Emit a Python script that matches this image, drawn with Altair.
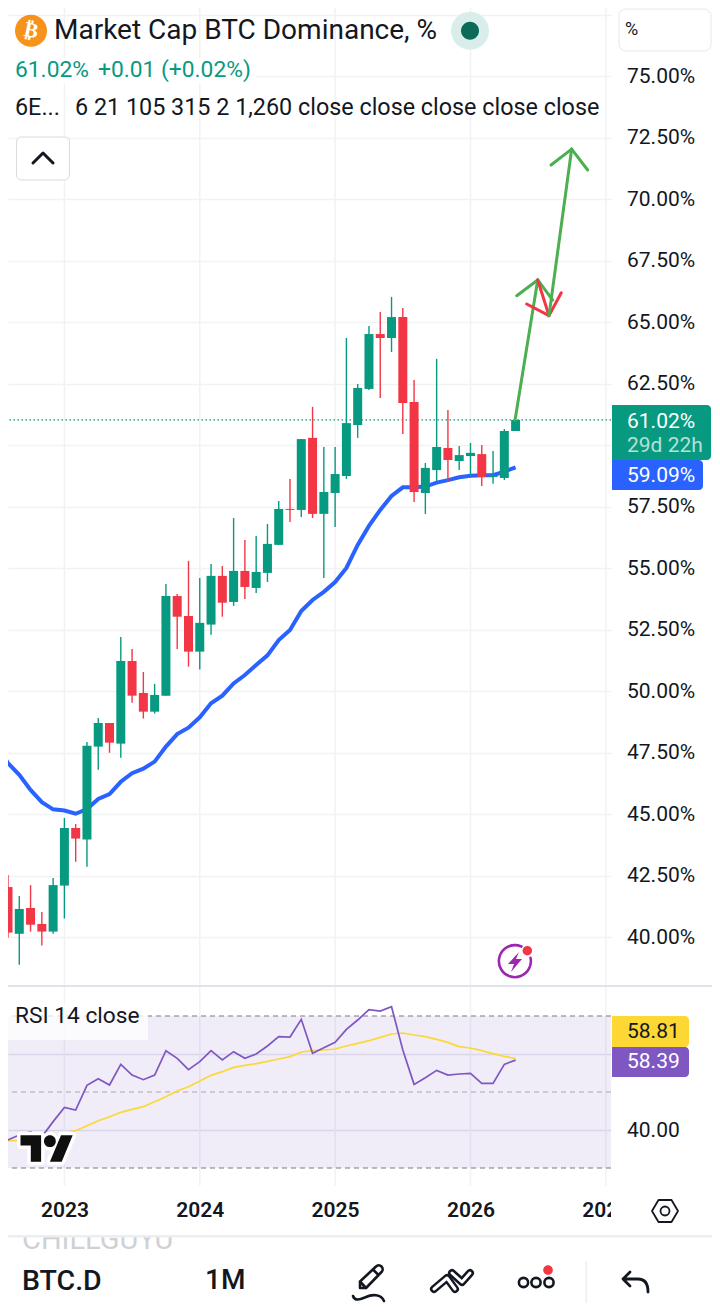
import altair as alt
import pandas as pd

months = list(range(-6, 41))
opens = [43.98,42.03,40.13,41.18,40.53,40.22,42.09,44.43,43.96,47.74,48.70,47.86,51.22,49.92,49.16,49.81,53.86,53.05,51.60,52.70,54.68,53.62,54.88,54.19,54.80,55.94,57.40,57.36,60.29,57.20,58.05,58.74,60.81,62.28,64.51,64.35,65.20,61.75,58.05,58.98,59.88,59.35,59.55,59.63,58.70,58.66,60.57]
highs = [43.98,42.52,41.67,42.11,41.02,42.40,44.84,44.59,47.93,48.90,48.70,52.20,51.71,50.77,50.29,54.35,53.94,55.29,54.59,55.16,55.08,57.03,56.14,56.30,56.79,57.72,58.62,60.24,61.55,59.92,59.92,64.35,62.48,64.84,65.41,66.02,65.57,62.64,59.27,63.50,61.42,59.96,60.08,60.00,59.76,60.65,61.02]
lows = [41.91,39.97,38.87,40.22,39.65,40.13,40.75,43.06,42.86,46.80,47.49,47.29,49.52,48.88,49.08,49.81,51.71,50.99,50.87,52.29,53.02,53.46,53.74,53.98,54.43,55.94,56.87,57.07,57.03,54.59,56.67,58.62,60.29,62.24,61.91,63.78,60.45,57.68,57.20,58.50,58.50,58.98,58.74,58.33,58.42,58.58,60.57]
closes = [41.99,40.18,41.14,40.50,40.22,42.11,44.43,44.00,47.77,48.70,47.90,51.22,49.81,49.16,49.84,53.86,53.02,51.60,52.77,54.68,53.59,54.88,54.23,54.84,55.98,57.40,57.36,60.24,57.20,58.09,58.82,60.89,62.32,64.51,64.35,65.20,61.71,58.09,59.07,59.92,59.39,59.59,59.68,58.70,58.78,60.57,61.02]
ma_line = [47.81,47.07,46.59,45.98,45.48,45.19,45.14,45.01,45.20,45.61,45.81,46.31,46.66,46.84,47.13,47.74,48.25,48.51,48.93,49.50,49.81,50.31,50.65,51.06,51.45,52.07,52.48,53.25,53.70,54.03,54.43,55.00,55.94,56.71,57.36,57.93,58.28,58.28,58.31,58.47,58.57,58.69,58.75,58.77,58.77,58.92,59.09]
rsi_line = [38.9,37.4,38.7,39.5,38.2,42.2,45.96,45.26,51.75,53.5,51.84,57.28,54.47,53.24,54.47,60.87,58.86,55.87,57.98,60.87,58.42,60.61,58.86,60.0,62.1,64.56,64.47,69.12,60.17,61.66,63.07,66.49,68.94,71.66,71.31,72.45,61.05,52.01,53.77,55.7,54.47,54.73,54.91,52.28,52.28,57.28,58.39]
rsi_ma = [37.2,37.2,37.2,37.4,37.8,38.4,39.0,39.82,41.14,42.45,43.5,44.65,45.44,46.14,47.45,48.77,50.26,51.4,52.89,54.38,55.35,56.49,57.0,57.45,58.07,58.68,59.3,60.52,60.87,61.05,61.31,62.1,62.8,63.5,64.38,65.26,65.52,65.0,64.56,63.86,63.07,61.93,61.58,60.87,60.08,59.38,58.81]

price_ticks = [40 + 2.5 * i for i in range(16)]
year_ticks = [0, 12, 24, 36, 48]
rsi_bands = [30, 70]
rsi_mid = [50]
last_price = [61.02]

arrow_first = [(39.95,61.02,41.96,66.71),(40.10,66.07,41.96,66.71),(43.29,65.89,41.96,66.71)]
arrow_down = [(41.96,66.71,42.96,65.26),(40.98,65.73,42.96,65.26),(44.05,66.19,42.96,65.26)]
arrow_last = [(42.96,65.26,44.97,72.03),(43.14,71.38,44.97,72.03),(46.39,71.18,44.97,72.03)]

GREEN = "#089981"; RED = "#f23645"; BLUE = "#2962ff"; INK = "#131722"
PURPLE = "#7e57c2"; YELLOW = "#fdd835"; ARROW = "#4caf50"; GRID = "#f1f2f4"
FONT = "Roboto"

DX, DY = 8, 8
W, H = 603, 1178
xaxis = alt.Axis(orient="bottom", values=year_ticks, grid=False,
                 domain=False, ticks=False, labelPadding=24, labelFontSize=21, labelFontWeight=600,
                 labelColor=INK, labelFont=FONT, labelExpr="'' + (2023 + datum.value / 12)", title=None,
                 labelOverlap=False, labelBound=False, labelFlush=False, labelBaseline="middle")
xscale = alt.Scale(domain=[-5.0, 48.457], nice=False, zero=False, padding=0)
pscale = alt.Scale(domain=[37.5, 77.5], range=[998.5 - DY, 14.5 - DY], nice=False, zero=False)
rscale = alt.Scale(domain=[30, 70], range=[1168 - DY, 1016 - DY], nice=False, zero=False)

candles = pd.DataFrame(dict(m=months, o=opens, h=highs, l=lows, c=closes))
candles["dir"] = ["up" if c >= o else "down" for o, c in zip(opens, closes)]
colour = alt.Color("dir:N", scale=alt.Scale(domain=["up", "down"], range=[GREEN, RED]), legend=None)
series = pd.DataFrame(dict(m=months, ma=ma_line, rsi=rsi_line, rsima=rsi_ma))
one = pd.DataFrame({"a": [0]})

X = alt.X("m:Q", scale=xscale, axis=xaxis)

year_grid = alt.Chart(pd.DataFrame({"m": year_ticks})).mark_rule(color=GRID, strokeWidth=1.5).encode(x=X)
base_price = alt.Chart(pd.DataFrame({"v": price_ticks})).mark_rule(opacity=0).encode(
    y=alt.Y("v:Q", scale=pscale, axis=alt.Axis(
        orient="right", values=price_ticks + [77.5], grid=True, gridColor=GRID, gridWidth=1.5,
        domain=False, ticks=False, labelPadding=15.5, labelFontSize=21, labelColor=INK, labelFont=FONT,
        labelExpr="(datum.value > 76 || datum.value == 60) ? '' : format(datum.value, '.2f') + '%'",
        title=None, labelOverlap=False, labelBound=False, labelFlush=False)),
)

rsi_fill = alt.Chart(pd.DataFrame({"a": [30], "b": [70]})).mark_rect(color=PURPLE, opacity=0.115).encode(
    y=alt.Y("a:Q", scale=rscale, axis=alt.Axis(
        orient="right", values=[40, 60], grid=True, gridColor="#e8e5f1", gridWidth=1.3, domain=False, ticks=False,
        labelPadding=15.5, labelFontSize=21, labelColor=INK, labelFont=FONT,
        labelExpr="datum.value == 60 ? '' : format(datum.value, '.2f')", title=None)),
    y2="b:Q", x=alt.value(0), x2=alt.value(W))
rsi_rules = alt.Chart(pd.DataFrame({"v": rsi_bands})).mark_rule(color="#787b86", strokeDash=[5, 4], strokeWidth=1.2).encode(
    y=alt.Y("v:Q", scale=rscale, axis=None))
rsi_midrule = alt.Chart(pd.DataFrame({"v": rsi_mid})).mark_rule(color="#a9a8b2", strokeDash=[5, 4], strokeWidth=1.2).encode(
    y=alt.Y("v:Q", scale=rscale, axis=None))

ma = alt.Chart(series).mark_line(color=BLUE, strokeWidth=4, clip=True, interpolate="linear").encode(
    x=X, y=alt.Y("ma:Q", scale=pscale, axis=None))
lastline = alt.Chart(pd.DataFrame({"v": last_price})).mark_rule(color=GREEN, strokeDash=[1.5, 2.5], strokeWidth=1.3).encode(
    y=alt.Y("v:Q", scale=pscale, axis=None))
wicks = alt.Chart(candles).mark_rule(strokeWidth=1.4, clip=True).encode(
    x=X, y=alt.Y("l:Q", scale=pscale, axis=None), y2="h:Q", color=colour)
bodies = alt.Chart(candles).mark_bar(size=9, orient="vertical", clip=True).encode(
    x=X, y=alt.Y("o:Q", scale=pscale, axis=None), y2="c:Q", color=colour)


def arrow(segs, col):
    df = pd.DataFrame(segs, columns=["m", "p", "m2", "p2"])
    return alt.Chart(df).mark_rule(color=col, strokeWidth=3, strokeCap="round").encode(
        x=X, x2="m2:Q", y=alt.Y("p:Q", scale=pscale, axis=None), y2="p2:Q")


rsi_l = alt.Chart(series).mark_line(color=PURPLE, strokeWidth=1.7, clip=True).encode(
    x=X, y=alt.Y("rsi:Q", scale=rscale, axis=None))
rsi_m = alt.Chart(series).mark_line(color=YELLOW, strokeWidth=1.7, clip=True).encode(
    x=X, y=alt.Y("rsima:Q", scale=rscale, axis=None))


def box(x0, y0, x1, y1, fill="#ffffff", **kw):
    return alt.Chart(one).mark_rect(fill=fill, **kw).encode(
        x=alt.value(x0 - DX), x2=alt.value(x1 - DX), y=alt.value(y0 - DY), y2=alt.value(y1 - DY))


def label(s, x, y, size=21, col=INK, align="left", baseline="middle", weight=400, font=FONT, **kw):
    return alt.Chart(one).mark_text(text=s, font=font, fontSize=size, color=col, align=align,
                                    baseline=baseline, fontWeight=weight, **kw).encode(
        x=alt.value(x - DX), y=alt.value(y - DY))


def glyph(path, x, y, fill=None, stroke=None, sw=2.4):
    kw = dict(shape=path, size=4, opacity=1, strokeCap="round", strokeJoin="round")
    if fill:
        kw.update(filled=True, fill=fill)
    else:
        kw.update(filled=False)
    if stroke:
        kw.update(stroke=stroke, strokeWidth=sw)
    else:
        kw.update(strokeWidth=0)
    return alt.Chart(one).mark_point(**kw).encode(x=alt.value(x - DX), y=alt.value(y - DY))


def disc(r):
    return f"M{-r} 0A{r} {r} 0 1 0 {r} 0A{r} {r} 0 1 0 {-r} 0Z"


LOGO = ("M-5.9 13.2H-16.2V-2.9H-26.5V-13.2H-5.9ZM14.7 13.2H2.9L14 -13.2H25.7Z"
        "M-3 -7.35A5.9 5.9 0 1 0 8.8 -7.35A5.9 5.9 0 1 0 -3 -7.35Z")
ZIG_A = "M-18 8L-5 -3L3 8"
ZIG_B = "M0 -8L10 1L18 -8"

overlay = [
    box(8, 58, 256, 84, opacity=0.9),
    box(8, 1003, 148, 1040, opacity=0.75),
    glyph(disc(16), 31, 30.7, fill="#f7931a"),
    label("₿", 31, 31, size=21, col="#ffffff", align="center", weight=700, font="DejaVu Sans", angle=12),
    label("Market Cap BTC Dominance, %", 54, 31, size=28),
    glyph(disc(19), 470, 30.7, fill="#d9eeea"),
    glyph(disc(9), 470, 30.7, fill="#0b6b58"),
    label("61.02%", 15, 70, size=22.8, col=GREEN),
    label("+0.01 (+0.02%)", 98, 70, size=22.8, col=GREEN),
    label("6E...", 15, 108, size=23.35),
    label("6 21 105 315 2 1,260 close close close close close", 75, 108, size=23.35),
    box(16.5, 137, 69.5, 180, stroke="#d9dbe1", strokeWidth=1, cornerRadius=5),
    glyph("M-10 5L0 -5L10 5", 43, 158, stroke=INK, sw=3),
    box(619, 9, 711, 51, stroke="#e6e8ee", strokeWidth=1, cornerRadius=7),
    label("%", 625, 30, size=18),
    box(612, 405, 711, 460, fill=GREEN, cornerRadiusTopRight=4, cornerRadiusBottomRight=4),
    label("61.02%", 627, 422, col="#ffffff"),
    label("29d 22h", 627, 446, col="#b5e0d6"),
    box(612, 460, 703, 490, fill=BLUE, cornerRadiusTopRight=4, cornerRadiusBottomRight=4),
    label("59.09%", 627, 475.5, col="#ffffff"),
    glyph("M10.5 -12.5A16 16 0 1 0 15.5 -4", 515, 961.7, stroke="#9c27b0", sw=2.6),
    glyph("M4 -10L-7 2H-1L-4 10L7 -3H1Z", 515, 962, fill="#9c27b0"),
    glyph(disc(5.5), 527.3, 950.7, fill="#f23645", stroke="#ffffff", sw=1.5),
    box(0, 985, 712, 987, fill="#e0e3eb"),
    label("RSI 14 close", 15, 1016, size=22.7),
    glyph(LOGO, 47, 1148.5, fill="#ffffff", stroke="#ffffff", sw=7),
    glyph(LOGO, 47, 1148.5, fill="#0f0f0f"),
    box(612, 1016, 689, 1047, fill=YELLOW, cornerRadiusTopRight=4, cornerRadiusBottomRight=4),
    label("58.81", 627, 1032, col="#131722"),
    box(612, 1047, 689, 1077, fill=PURPLE, cornerRadiusTopRight=4, cornerRadiusBottomRight=4),
    label("58.39", 627, 1062, col="#ffffff"),
    box(611, 1190, 712, 1233),
    glyph("M-13 0L-6.5 -11H6.5L13 0L6.5 11H-6.5Z" + "M-4.5 0A4.5 4.5 0 1 0 4.5 0A4.5 4.5 0 1 0 -4.5 0Z", 665, 1211, stroke=INK, sw=1.8),
    label("CHILLGUYU", 22, 1249, size=29, col="#cfd1d4", baseline="alphabetic"),
    box(0, 1224, 200, 1235),
    box(0, 1235, 712, 1237.5, fill="#eceef1"),
    label("BTC.D", 22, 1281, size=28.5, weight=500),
    label("1M", 205, 1281, size=28, weight=500),
    glyph("M-7 8L-7 1.5L9 -13.5A3 3 0 0 1 14.5 -8L-1 8ZM-7 1.5L-1 8M6 -10.5L11.5 -5", 367, 1280, stroke=INK, sw=2.6),
    glyph("M-16 -1C-14 5 -8 2 -3 0C3 -3 12 -3 15 4", 369, 1297, stroke=INK, sw=2.6),
    glyph(ZIG_A, 452, 1281, stroke=INK, sw=8),
    glyph(ZIG_A, 452, 1281, stroke="#ffffff", sw=3),
    glyph(ZIG_B, 452, 1281, stroke=INK, sw=8),
    glyph(ZIG_B, 452, 1281, stroke="#ffffff", sw=3),
    glyph(disc(4.6), 523.5, 1282.5, stroke=INK, sw=2.6),
    glyph(disc(4.6), 536, 1282.5, stroke=INK, sw=2.6),
    glyph(disc(4.6), 549, 1282.5, stroke=INK, sw=2.6),
    glyph(disc(4.8), 548, 1270, fill="#f23645"),
    box(585.5, 1261, 587, 1303, fill="#eeeff2"),
    glyph("M-6 -9L-13 -2L-6 5M-13 -2H2C9 -2 12 3 12 11", 636, 1281, stroke=INK, sw=2.8),
]

layers = [base_price, year_grid, rsi_fill, rsi_rules, rsi_midrule, ma, lastline, wicks, bodies,
          arrow(arrow_first, ARROW), arrow(arrow_down, RED), arrow(arrow_last, ARROW),
          rsi_m, rsi_l] + overlay

chart = alt.layer(*layers).resolve_scale(y="independent").properties(
    width=W, height=H, background="#ffffff",
    padding={"left": 0, "top": 0, "right": 101, "bottom": 119},
    autosize=alt.AutoSizeParams(type="none"),
).configure_view(stroke=None)

chart.save("out.html", embed_options={"renderer": "svg", "actions": False})
